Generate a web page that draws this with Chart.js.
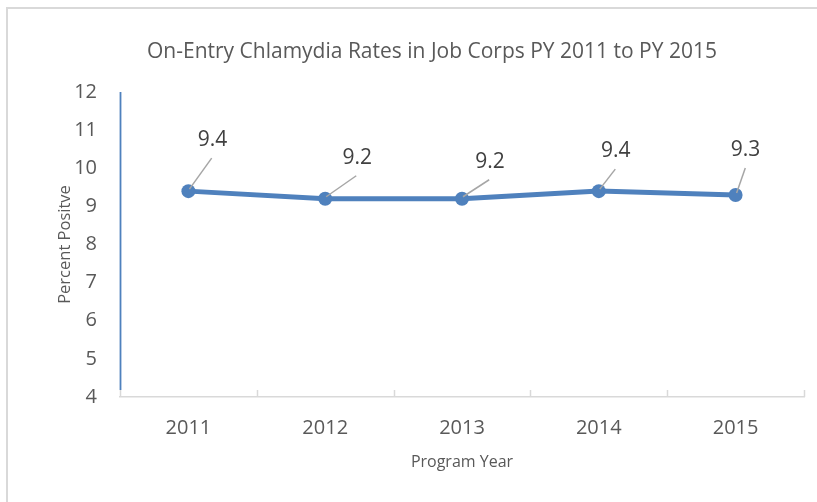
<!DOCTYPE html>
<html>
<head>
<meta charset="utf-8">
<script src="https://cdn.jsdelivr.net/npm/chart.js@4/dist/chart.umd.min.js"></script>
<style>
  html, body { margin: 0; padding: 0; background: #fff; overflow: hidden; }
  #frame { position: absolute; left: 6px; top: 7px; width: 900px; height: 600px; border: 2px solid #d9d9d9; }
  #wrap { position: absolute; left: 0; top: 0; width: 817px; height: 502px; }
</style>
</head>
<body>
<div id="frame"></div>
<div id="wrap"><canvas id="c" width="817" height="502"></canvas></div>
<script>
const categories = ['2011', '2012', '2013', '2014', '2015'];
const rates = [9.4, 9.2, 9.2, 9.4, 9.3];
const yTicks = [4, 5, 6, 7, 8, 9, 10, 11, 12];
const chartTitle = 'On-Entry Chlamydia Rates in Job Corps PY 2011 to PY 2015';
const xTitle = 'Program Year';
const yTitle = 'Percent Positve';
const labelOffsets = [[24, -51], [32, -41], [28, -37], [17, -40], [10, -45]];

const FONT = '"Open Sans", Lato, "Liberation Sans", sans-serif';

const leaderPlugin = {
  id: 'leaders',
  afterDatasetsDraw(chart) {
    const ctx = chart.ctx;
    const meta = chart.getDatasetMeta(0);
    ctx.save();
    meta.data.forEach((pt, i) => {
      const [dx, dy] = labelOffsets[i];
      const lx = pt.x + dx, ly = pt.y + dy;
      ctx.strokeStyle = '#a6a6a6';
      ctx.lineWidth = 1.5;
      ctx.beginPath();
      ctx.moveTo(pt.x + 1, pt.y - 2);
      ctx.lineTo(lx - dx * 0.03, ly + 18);
      ctx.stroke();
      ctx.fillStyle = '#404040';
      ctx.font = '21px ' + FONT;
      ctx.textAlign = 'center';
      ctx.textBaseline = 'middle';
      ctx.fillText(rates[i].toFixed(1), lx, ly);
    });
    ctx.restore();
  }
};

const axisLinesPlugin = {
  id: 'axisLines',
  beforeDatasetsDraw(chart) {
    const {ctx, chartArea} = chart;
    const n = categories.length;
    const w = (chartArea.right - chartArea.left) / n;
    ctx.save();
    ctx.strokeStyle = '#d9d9d9';
    ctx.lineWidth = 1.5;
    ctx.beginPath();
    for (let i = 0; i <= n; i++) {
      const x = Math.round(chartArea.left + i * w) + 0.5;
      ctx.moveTo(x, chartArea.bottom);
      ctx.lineTo(x, chartArea.bottom - 7);
    }
    ctx.stroke();
    ctx.strokeStyle = '#4f81bd';
    ctx.lineWidth = 1.8;
    ctx.beginPath();
    ctx.moveTo(chartArea.left + 0.5, chartArea.top);
    ctx.lineTo(chartArea.left + 0.5, chartArea.bottom - 7);
    ctx.stroke();
    ctx.restore();
  }
};

new Chart(document.getElementById('c'), {
  type: 'line',
  data: {
    labels: categories,
    datasets: [{
      data: rates,
      borderColor: '#4f81bd',
      backgroundColor: '#4f81bd',
      borderWidth: 5,
      pointRadius: 7,
      pointBackgroundColor: '#4f81bd',
      pointBorderColor: '#4f81bd',
      pointBorderWidth: 0,
      tension: 0,
      fill: false
    }]
  },
  options: {
    responsive: false,
    animation: false,
    layout: { padding: { left: 60, right: 13, top: 0, bottom: 0 } },
    plugins: {
      legend: { display: false },
      tooltip: { enabled: false },
      title: {
        display: true,
        text: chartTitle,
        color: '#595959',
        font: { family: FONT, size: 21, weight: 'normal', lineHeight: 1.2 },
        padding: { top: 39, bottom: 27.8 }
      }
    },
    scales: {
      x: {
        type: 'category',
        offset: true,
        grid: { display: false, drawTicks: false },
        border: { display: true, color: '#d9d9d9', width: 1.5 },
        ticks: {
          color: '#595959',
          font: { family: FONT, size: 20, lineHeight: 1.2 },
          padding: 19,
          maxRotation: 0
        },
        title: {
          display: true,
          text: xTitle,
          color: '#595959',
          font: { family: FONT, size: 16, lineHeight: 1.2 },
          padding: { top: 0, bottom: 30 }
        },
        afterFit(scale) { scale.height = 105; }
      },
      y: {
        min: 4,
        max: 12,
        afterBuildTicks(scale) { scale.ticks = yTicks.map(v => ({ value: v })); },
        grid: { display: false, drawTicks: false },
        border: { display: false },
        ticks: {
          color: '#595959',
          font: { family: FONT, size: 20, lineHeight: 1.2 },
          padding: 23
        },
        title: {
          display: true,
          text: yTitle,
          color: '#595959',
          font: { family: FONT, size: 16.5, lineHeight: 1.2 },
          padding: { top: -5, bottom: 0 }
        },
        afterFit(scale) { scale.width = 60; }
      }
    }
  },
  plugins: [leaderPlugin, axisLinesPlugin]
});
</script>
</body>
</html>
